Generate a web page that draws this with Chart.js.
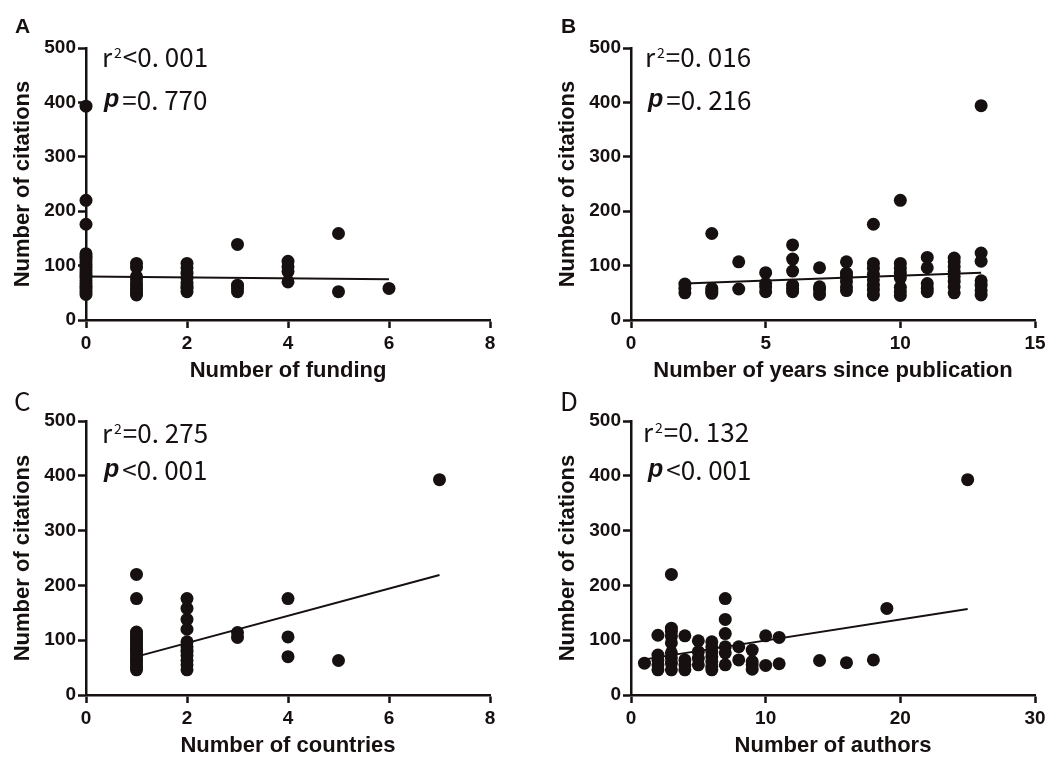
<!DOCTYPE html>
<html>
<head>
<meta charset="utf-8">
<script src="https://cdn.jsdelivr.net/npm/chart.js@4"></script>
<style>
  html, body { margin: 0; padding: 0; background: #ffffff; }
  #wrap { position: relative; width: 1052px; height: 757px; background: #ffffff; }
  #wrap canvas { position: absolute; left: 0; top: 0; }
</style>
</head>
<body>
<div id="wrap">
  <canvas id="cA" width="1052" height="757"></canvas>
  <canvas id="cB" width="1052" height="757"></canvas>
  <canvas id="cC" width="1052" height="757"></canvas>
  <canvas id="cD" width="1052" height="757"></canvas>
</div>
<script>
// ---------------- DATA ----------------
// Panel A: number of funding vs citations
const fundingX = [0,0,0,0,0,0,0,0,0,0,0,0,0,0,0,0,0,0,0,
                  1,1,1,1,1,1,1,1,1,
                  2,2,2,2,2,2,2,2,
                  3,3,3,3,
                  4,4,4,4,
                  5,5,
                  6];
const fundingY = [393,220,176,122,117,112,107,102,97,92,87,82,77,72,67,62,57,52,47,
                  104,97,80,74,66,61,55,50,46,
                  104,96,86,77,68,62,58,52,
                  139,64,58,52,
                  108,98,89,70,
                  159,52,
                  58];
const fundingFitX = [0, 6];
const fundingFitY = [80, 75];

// Panel B: years since publication vs citations
const yearsX = [2,2,2,
                3,3,3,3,
                4,4,
                5,5,5,5,
                6,6,6,6,6,6,
                7,7,7,7,
                8,8,8,8,8,8,
                9,9,9,9,9,9,9,9,
                10,10,10,10,10,10,10,10,
                11,11,11,11,11,
                12,12,12,12,12,12,12,12,
                13,13,13,13,13,13,13];
const yearsY = [66,58,50,
                159,58,53,49,
                107,57,
                87,67,61,52,
                138,112,90,64,57,52,
                96,61,55,47,
                107,86,80,71,61,54,
                176,104,95,84,74,64,55,46,
                220,104,95,86,77,60,52,45,
                115,96,67,58,52,
                114,107,98,89,80,71,61,50,
                394,123,108,72,64,54,46];
const yearsFitX = [2, 13];
const yearsFitY = [67, 87];

// Panel C: number of countries vs citations
const countriesX = [1,1,1,1,1,1,1,1,1,1,1,1,1,1,1,1,1,
                    2,2,2,2,2,2,2,2,2,2,2,
                    3,3,
                    4,4,4,
                    5,
                    7];
const countriesY = [220,176,115,110,105,100,95,90,85,80,75,70,65,60,55,50,46,
                    176,158,138,120,97,88,80,72,63,55,46,
                    114,105,
                    176,106,70,
                    63,
                    393];
const countriesFitX = [1, 7];
const countriesFitY = [70, 219];

// Panel D: number of authors vs citations
const authorsX = [1,
                  2,2,2,2,2,
                  3,3,3,3,3,3,3,3,3,
                  4,4,4,4,
                  5,5,5,5,
                  6,6,6,6,6,6,6,
                  7,7,7,7,7,7,
                  8,8,
                  9,9,9,9,
                  10,10,
                  11,11,
                  14,16,18,19,25];
const authorsY = [58,
                  109,73,64,55,46,
                  220,122,116,107,95,77,68,58,46,
                  108,64,55,46,
                  99,79,67,55,
                  97,88,79,70,61,52,46,
                  176,138,112,88,77,55,
                  88,64,
                  82,61,55,47,
                  108,54,
                  105,57,
                  63,59,64,158,393];
const authorsFitX = [1, 25];
const authorsFitY = [65, 157];

// Axis / label texts
const panelLetters = ['A', 'B', 'C', 'D'];
const xTitles = ['Number of funding', 'Number of years since publication', 'Number of countries', 'Number of authors'];
const yTitle = 'Number of citations';
const xMax = [8, 15, 8, 30];
const xStep = [2, 5, 2, 10];
const yMax = 500;
const yStep = 100;
const r2Text = ['<0. 001', '=0. 016', '=0. 275', '=0. 132'];
const pText = ['=0. 770', '=0. 216', '<0. 001', '<0. 001'];

// ---------------- STYLE / LAYOUT ----------------
const INK = '#161010';
const W = 1052, H = 757;
const TICK_FONT = { family: '"Liberation Sans", Arial, sans-serif', size: 19, weight: 'bold', lineHeight: 1 };
const TITLE_FONT = { family: '"Liberation Sans", Arial, sans-serif', size: 22, weight: 'bold', lineHeight: 1 };
const ANNOT_FAMILY = '"Noto Sans CJK SC", "Noto Sans", sans-serif';

function pairs(xs, ys) { return xs.map((x, i) => ({ x: x, y: ys[i] })); }

const panelText = {
  id: 'panelText',
  afterDraw(chart, args, opts) {
    const ctx = chart.ctx;
    ctx.save();
    ctx.fillStyle = INK;
    ctx.textAlign = 'left';
    ctx.textBaseline = 'alphabetic';
    ctx.font = opts.letterFont;
    ctx.fillText(opts.letter, opts.letterX, opts.letterY);
    const lines = opts.lines;
    for (let li = 0; li < lines.length; li++) {
      const line = lines[li];
      let x = line.x;
      const segs = line.segs;
      for (let si = 0; si < segs.length; si++) {
        const seg = segs[si];
        ctx.font = seg.font;
        ctx.fillText(seg.text, x, line.y + (seg.dy || 0));
        x += ctx.measureText(seg.text).width + (seg.gap || 0);
      }
    }
    ctx.restore();
  }
};

function makePanel(canvasId, idx, pts, fit, geo) {
  const xH = 62;               // x-axis box height (ticks + labels + title)
  const padL = geo.padL;
  const area = geo.area;
  const cfg = {
    type: 'scatter',
    data: {
      datasets: [
        {
          data: pts,
          pointRadius: 6.5,
          pointHoverRadius: 6.5,
          pointBackgroundColor: INK,
          pointBorderWidth: 0,
          showLine: false,
          clip: false,
          order: 1
        },
        {
          data: fit,
          showLine: true,
          borderColor: INK,
          borderWidth: 2,
          pointRadius: 0,
          pointHoverRadius: 0,
          fill: false,
          clip: false,
          order: 0
        }
      ]
    },
    options: {
      responsive: false,
      animation: false,
      events: [],
      layout: {
        padding: { left: padL, top: area.top, right: W - area.right, bottom: H - area.bottom - xH }
      },
      plugins: {
        legend: { display: false },
        tooltip: { enabled: false },
        panelText: geo.text
      },
      scales: {
        x: {
          type: 'linear',
          min: 0,
          max: xMax[idx],
          afterFit: s => { s.height = xH; },
          ticks: { stepSize: xStep[idx], color: INK, font: TICK_FONT, padding: 6, maxRotation: 0, autoSkip: false },
          grid: { display: true, drawOnChartArea: false, drawTicks: true, tickLength: 8, tickWidth: 2.5, tickColor: INK, color: INK },
          border: { display: true, color: INK, width: 2.5 },
          title: { display: true, text: xTitles[idx], color: INK, font: TITLE_FONT, padding: { top: 0, bottom: 0 } }
        },
        y: {
          type: 'linear',
          min: 0,
          max: yMax,
          afterFit: s => { s.width = area.left - padL; },
          ticks: { stepSize: yStep, color: INK, font: TICK_FONT, padding: 2, autoSkip: false },
          grid: { display: true, drawOnChartArea: false, drawTicks: true, tickLength: 8, tickWidth: 2.5, tickColor: INK, color: INK },
          border: { display: true, color: INK, width: 2.5 },
          title: { display: true, text: yTitle, color: INK, font: TITLE_FONT, padding: { top: geo.yTitleX - padL - 11, bottom: 0 } }
        }
      }
    },
    plugins: [panelText]
  };
  return new Chart(document.getElementById(canvasId), cfg);
}

function annot(idx, letterX, letterY, letterFont, x1, y1, x2, y2) {
  const big = '26px ' + ANNOT_FAMILY;
  const sup = '14px ' + ANNOT_FAMILY;
  const pf = 'italic bold 25px "Liberation Sans", Arial, sans-serif';
  return {
    letter: panelLetters[idx], letterX: letterX, letterY: letterY, letterFont: letterFont,
    lines: [
      { x: x1, y: y1, segs: [ { text: 'r', font: big, gap: 2 }, { text: '2', font: sup, dy: -9, gap: 1 }, { text: r2Text[idx], font: big } ] },
      { x: x2, y: y2, segs: [ { text: 'p', font: pf, dy: -3, gap: 3 }, { text: pText[idx], font: big } ] }
    ]
  };
}

const LETTER_AB = 'bold 21px "Liberation Sans", Arial, sans-serif';
const LETTER_CD = '26px ' + ANNOT_FAMILY;

makePanel('cA', 0, pairs(fundingX, fundingY), pairs(fundingFitX, fundingFitY), {
  padL: 0, yTitleX: 23, area: { left: 86, top: 48, right: 490, bottom: 320 },
  text: annot(0, 15, 33, LETTER_AB, 102, 67, 104, 110)
});
makePanel('cB', 1, pairs(yearsX, yearsY), pairs(yearsFitX, yearsFitY), {
  padL: 526, yTitleX: 568, area: { left: 631, top: 48, right: 1035, bottom: 320 },
  text: annot(1, 561, 33, LETTER_AB, 645, 67, 648, 110)
});
makePanel('cC', 2, pairs(countriesX, countriesY), pairs(countriesFitX, countriesFitY), {
  padL: 0, yTitleX: 23, area: { left: 86, top: 421, right: 490, bottom: 695 },
  text: annot(2, 14, 411, LETTER_CD, 102, 443, 104, 480)
});
makePanel('cD', 3, pairs(authorsX, authorsY), pairs(authorsFitX, authorsFitY), {
  padL: 526, yTitleX: 568, area: { left: 631, top: 421, right: 1035, bottom: 695 },
  text: annot(3, 560, 411, LETTER_CD, 643, 442, 648, 480)
});
</script>
</body>
</html>
